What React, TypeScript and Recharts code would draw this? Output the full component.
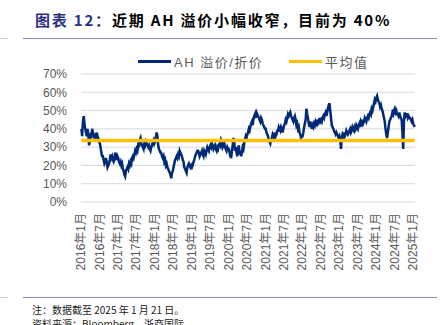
import React from 'react';
import { LineChart, Line, XAxis, YAxis, CartesianGrid, Legend } from 'recharts';

// AH premium (%), weekly readings, Jan 2016 – 21 Jan 2025
const premium2016 = [
  40, 36, 44, 47, 43, 40, 38, 36, 40, 37, 31, 33, 36, 35, 40, 38, 37, 35, 36, 34, 38, 36, 35, 33,
  32, 30, 27, 25, 25, 23, 21, 22, 24, 22, 19, 20, 21, 23, 26, 24, 25, 23, 22, 23, 27, 25, 23, 25,
];
const premium2017 = [
  24, 22, 21, 22, 20, 21, 18, 17, 15, 14, 17, 18, 19, 18, 21, 20, 22, 21, 24, 25, 24, 26, 28, 27,
  29, 28, 31, 30, 34, 35, 32, 31, 30, 29, 32, 31, 33, 32, 31, 30, 31, 29, 28, 30, 31, 33, 34, 32,
];
const premium2018 = [
  33, 35, 38, 36, 31, 29, 28, 27, 27, 25, 24, 25, 22, 23, 20, 21, 19, 18, 17, 16, 15, 13, 16, 17,
  19, 21, 23, 24, 25, 24, 26, 25, 28, 27, 26, 25, 23, 22, 19, 18, 17, 16, 19, 20, 21, 20, 19, 20,
];
const premium2019 = [
  19, 20, 22, 23, 25, 26, 27, 28, 28, 27, 25, 26, 27, 28, 26, 25, 28, 27, 26, 28, 30, 29, 28, 30,
  31, 30, 32, 31, 29, 30, 31, 29, 28, 30, 29, 31, 32, 31, 34, 33, 30, 31, 32, 30, 29, 28, 30, 29,
];
const premium2020 = [
  29, 27, 25, 24, 28, 31, 35, 33, 28, 30, 27, 25, 29, 31, 26, 28, 25, 27, 30, 29, 32, 34, 36, 35,
  37, 38, 40, 39, 41, 43, 44, 42, 45, 47, 48, 46, 49, 48, 47, 46, 45, 44, 46, 45, 43, 42, 41, 40,
];
const premium2021 = [
  40, 38, 37, 36, 34, 33, 32, 34, 35, 37, 36, 35, 38, 36, 37, 39, 39, 41, 40, 39, 41, 40, 38, 40,
  42, 43, 45, 44, 46, 48, 47, 48, 49, 47, 46, 45, 44, 46, 47, 45, 42, 43, 40, 41, 38, 37, 35, 36,
];
const premium2022 = [
  36, 38, 41, 43, 45, 51, 48, 46, 43, 41, 44, 42, 40, 42, 41, 43, 42, 44, 43, 45, 43, 44, 46, 44,
  45, 44, 46, 47, 46, 48, 49, 47, 49, 51, 53, 54, 50, 46, 42, 41, 40, 39, 38, 37, 38, 37, 36, 35,
];
const premium2023 = [
  36, 34, 29, 35, 37, 36, 38, 36, 37, 39, 38, 37, 38, 39, 40, 38, 39, 41, 40, 39, 41, 40, 42, 41,
  40, 42, 43, 41, 44, 43, 45, 43, 44, 46, 45, 44, 46, 47, 46, 48, 49, 48, 51, 50, 52, 54, 56, 55,
];
const premium2024 = [
  57, 58, 56, 55, 54, 52, 53, 51, 50, 48, 46, 44, 40, 37, 35, 38, 41, 44, 45, 46, 47, 49, 48, 50,
  51, 49, 50, 48, 48, 47, 49, 47, 46, 45, 38, 29, 44, 49, 47, 48, 48, 46, 47, 46, 46, 45, 44, 45,
];
const premium2025 = [43, 42, 41];

const AVERAGE = 33.6;

const yearSeries: [number, number[]][] = [
  [2016, premium2016],
  [2017, premium2017],
  [2018, premium2018],
  [2019, premium2019],
  [2020, premium2020],
  [2021, premium2021],
  [2022, premium2022],
  [2023, premium2023],
  [2024, premium2024],
  [2025, premium2025],
];

const yTicks = [0, 10, 20, 30, 40, 50, 60, 70];
const xTicks = [
  2016, 2016.5, 2017, 2017.5, 2018, 2018.5, 2019, 2019.5, 2020, 2020.5,
  2021, 2021.5, 2022, 2022.5, 2023, 2023.5, 2024, 2024.5, 2025,
];

const data = yearSeries.flatMap(([year, values]) =>
  values.map((v, i) => ({
    t: year + (i + 0.5) / 48,
    premium: v,
    avg: AVERAGE,
  }))
);

const NAVY = '#002A78';
const GOLD = '#FFC000';
const GREY = '#595959';
const RULE = '#8C8CB4';
const FONT = '"Liberation Sans", "Noto Sans CJK SC", sans-serif';

function formatMonth(t: number) {
  const year = Math.floor(t);
  return `${year}年${t - year > 0.25 ? 7 : 1}月`;
}

function MonthTick({ x, y, payload }: any) {
  return (
    <text
      x={x}
      y={y}
      transform={`rotate(-90 ${x} ${y})`}
      textAnchor="end"
      dy="0.35em"
      fill={GREY}
      fontSize={12}
      fontFamily={FONT}
    >
      {formatMonth(payload.value)}
    </text>
  );
}

function ChartLegend() {
  const item = (left: number, color: string, label: string) => (
    <div style={{ position: 'absolute', left, top: 0, display: 'flex', alignItems: 'center' }}>
      <span style={{ width: 33, height: 3, background: color, display: 'inline-block' }} />
      <span style={{ marginLeft: 3, fontSize: 13, color: GREY, letterSpacing: 1.5, fontFamily: FONT }}>{label}</span>
    </div>
  );
  return (
    <div style={{ position: 'relative', width: 448, height: 16 }}>
      {item(138, NAVY, 'AH 溢价/折价')}
      {item(289, GOLD, '平均值')}
    </div>
  );
}

export default function App() {
  return (
    <div
      style={{
        position: 'absolute',
        left: 0,
        top: 0,
        width: 448,
        height: 325,
        overflow: 'hidden',
        background: '#fff',
        fontFamily: FONT,
      }}
    >
      <div
        style={{
          position: 'absolute',
          left: 35,
          top: 9,
          fontSize: 15,
          fontWeight: 'bold',
          fontFamily: '"Noto Sans CJK SC", sans-serif',
          color: '#000',
          whiteSpace: 'nowrap',
          letterSpacing: 1.8,
        }}
      >
        <span style={{ color: '#2B2F86' }}>图表 12：</span>近期 AH 溢价小幅收窄，目前为 40%
      </div>
      <div style={{ position: 'absolute', left: 0, top: 38, width: 7, height: 1, background: '#C8C8DC' }} />
      <div style={{ position: 'absolute', left: 23, top: 38, width: 414, height: 1, background: RULE }} />

      <div style={{ position: 'absolute', left: 0, top: 0 }}>
        <LineChart width={448} height={290} data={data} margin={{ top: 58, right: 33, bottom: 8, left: 0 }}>
          <CartesianGrid horizontal vertical={false} stroke="#D9D9D9" />
          <XAxis
            dataKey="t"
            type="number"
            domain={[2016, 2025.06]}
            ticks={xTicks}
            interval={0}
            axisLine={false}
            tickLine={false}
            tickMargin={5}
            height={80}
            tick={<MonthTick />}
          />
          <YAxis
            domain={[0, 70]}
            ticks={yTicks}
            interval={0}
            width={81}
            axisLine={false}
            tickLine={false}
            tickMargin={8}
            tickFormatter={(v: number) => `${v}%`}
            tick={{ fill: GREY, fontSize: 12, fontFamily: FONT }}
          />
          <Legend verticalAlign="top" wrapperStyle={{ top: 52, left: 0, width: 448 }} content={<ChartLegend />} />
          <Line dataKey="premium" stroke={NAVY} strokeWidth={2.5} dot={false} isAnimationActive={false} />
          <Line dataKey="avg" stroke={GOLD} strokeWidth={3.5} dot={false} isAnimationActive={false} />
        </LineChart>
      </div>

      <div style={{ position: 'absolute', left: 0, top: 297, width: 7, height: 1, background: '#C8C8DC' }} />
      <div style={{ position: 'absolute', left: 23, top: 297, width: 414, height: 1, background: RULE }} />
      <div
        style={{
          position: 'absolute',
          left: 32,
          top: 303,
          fontSize: 10,
          color: '#222',
          fontFamily: '"Noto Sans CJK SC", sans-serif',
          whiteSpace: 'nowrap',
          lineHeight: '14px',
        }}
      >
        <div>注：数据截至 2025 年 1 月 21 日。</div>
        <div>资料来源：Bloomberg，浙商国际</div>
      </div>
    </div>
  );
}
